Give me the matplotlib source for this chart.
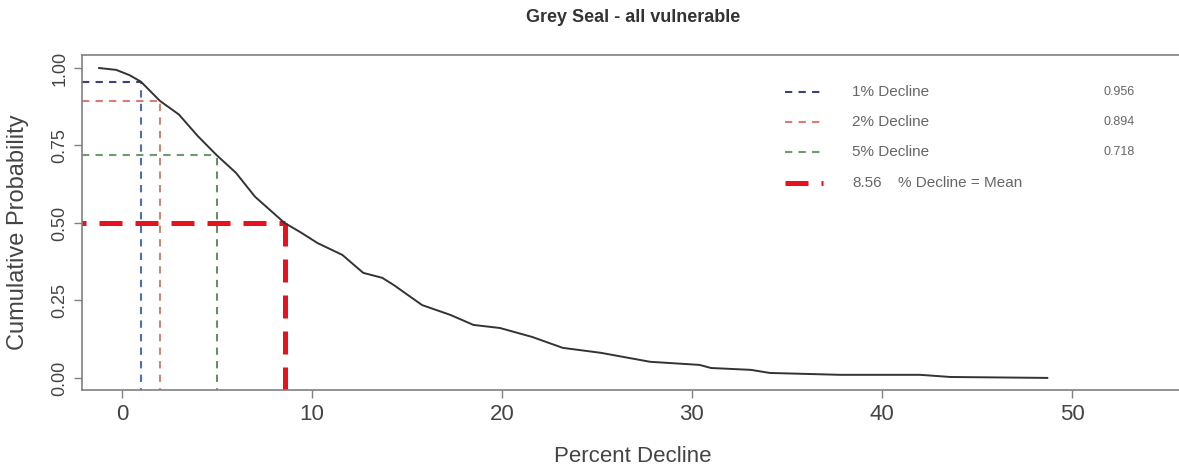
import matplotlib
matplotlib.use("Agg")
import matplotlib.pyplot as plt
from matplotlib.lines import Line2D

plt.rcParams['font.family'] = ['Liberation Sans', 'DejaVu Sans']

# cumulative probability of exceeding a given percent decline
decline = [-1.2, -0.3, 0.4, 1.0, 2.0, 3.0, 4.0, 5.0, 6.0, 7.0, 8.56, 9.4, 10.3,
           11.6, 12.7, 13.7, 14.3, 15.8, 17.3, 18.5, 19.9, 21.6, 23.2, 25.2,
           27.8, 30.4, 31.0, 33.1, 34.1, 37.8, 42.0, 43.6, 48.7]
cum_prob = [1.0, 0.994, 0.977, 0.956, 0.894, 0.850, 0.780, 0.718, 0.662, 0.585,
            0.500, 0.470, 0.435, 0.397, 0.339, 0.323, 0.300, 0.235, 0.203, 0.171,
            0.161, 0.132, 0.097, 0.081, 0.052, 0.042, 0.032, 0.026, 0.016,
            0.010, 0.010, 0.003, 0.0]

levels = [1, 2, 5]
level_probs = [0.956, 0.894, 0.718]
level_cols_h = ['#3c4278', '#d87c78', '#6f9a6f']
level_cols_v = ['#4f6fae', '#c98a74', '#6a8c6a']
mean_decline = 8.56
mean_prob = 0.5
mean_col = '#e8121e'

W, H = 1179, 468
fig = plt.figure(figsize=(W / 100, H / 100), dpi=100)
ax = fig.add_axes([82 / W, 1 - 390 / H, (1205 - 82) / W, 335 / H])
xmin, xmax = -2.1, 57.0
ax.set_xlim(xmin, xmax)
ax.set_ylim(-0.039, 1.042)

ax.plot(decline, cum_prob, color='#333333', lw=1.4, zorder=3)

thin = dict(lw=1.5, dashes=(3.5, 3))
for d, p, ch, cv in zip(levels, level_probs, level_cols_h, level_cols_v):
    ax.plot([xmin, d], [p, p], color=ch, **thin)
    ax.plot([d, d], [-0.1, p], color=cv, **thin)

thick = dict(lw=3.6, dashes=(4.6, 2.6), color=mean_col)
ax.plot([xmin - 1.0, mean_decline], [mean_prob, mean_prob], **thick)
ax.plot([mean_decline, mean_decline], [mean_prob, -0.1], **thick)

# axes styling, base-R look
for s in ['left', 'bottom', 'top', 'right']:
    ax.spines[s].set_color('#808080')
    ax.spines[s].set_linewidth(1.2)
ax.set_xticks([0, 10, 20, 30, 40, 50])
ax.set_yticks([0, 0.25, 0.5, 0.75, 1.0])
ax.set_yticklabels(['0.00', '0.25', '0.50', '0.75', '1.00'], rotation=90, va='center')
ax.tick_params(axis='both', direction='out', length=5.8, width=1.0, color='#808080',
               labelcolor='#444444', pad=4)
ax.tick_params(axis='x', labelsize=16)
ax.tick_params(axis='y', labelsize=13)

ax.set_xlabel('Percent Decline', fontsize=16, color='#444444')
ax.xaxis.set_label_coords((633 - 82) / 1123, (390 - 456) / 335)
ax.xaxis.label.set_va('center')
ax.set_ylabel('Cumulative Probability', fontsize=17, color='#444444')
ax.yaxis.set_label_coords((18 - 82) / 1123, 0.47)
ax.yaxis.label.set_va('center')

fig.text(633 / W, 1 - 18 / H, 'Grey Seal - all vulnerable', fontsize=13,
         fontweight='bold', color='#333333', ha='center', va='center')

# legend block
rows_y = [92, 122, 152, 183]
key_x0, key_x1 = 785, 823
for y, ch in zip(rows_y[:3], level_cols_h):
    fig.add_artist(Line2D([key_x0 / W, key_x1 / W], [1 - y / H] * 2, color=ch, **thin))
fig.add_artist(Line2D([key_x0 / W, key_x1 / W], [1 - rows_y[3] / H] * 2, **thick))

txt_col = '#666666'
for y, lvl, p in zip(rows_y, levels, level_probs):
    fig.text(852 / W, 1 - y / H, f'{lvl}% Decline', fontsize=11, color=txt_col,
             va='center')
    fig.text(1103 / W, 1 - y / H, f'{p:.3f}', fontsize=9, color=txt_col,
             va='center')
fig.text(852 / W, 1 - rows_y[3] / H, f'{mean_decline:.2f}', fontsize=11,
         color=txt_col, va='center')
fig.text(898 / W, 1 - rows_y[3] / H, '% Decline = Mean', fontsize=11,
         color=txt_col, va='center')

fig.savefig('out.png', dpi=100)
